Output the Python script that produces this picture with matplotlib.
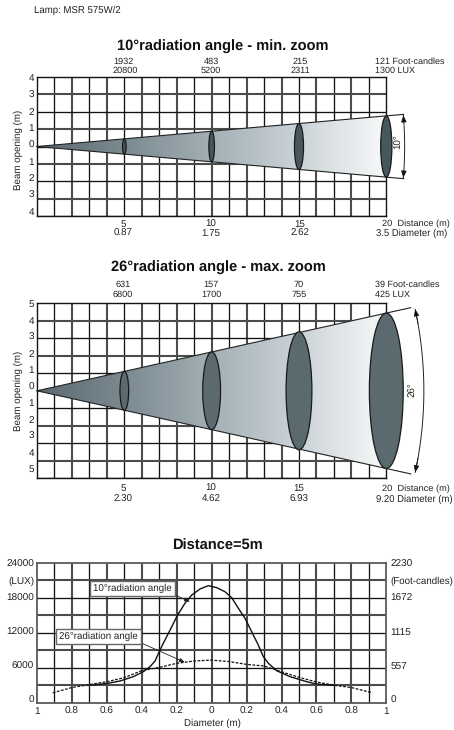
import numpy as np
import matplotlib
matplotlib.use("Agg")
import matplotlib.pyplot as plt
from matplotlib.patches import Ellipse, Polygon
from matplotlib.colors import LinearSegmentedColormap

plt.rcParams['font.family'] = ['Liberation Sans', 'DejaVu Sans']
plt.rcParams['text.hinting'] = 'no_hinting'
plt.rcParams['text.hinting_factor'] = 8

W, H = 454, 730
TXT = '#222222'
GRID = '#141414'
GRID2 = '#4c4c4c'

# ---- data ----
distances = [5, 10, 15, 20]
narrow_half = [0.44, 0.875, 1.31, 1.75]
narrow_width = [0.10, 0.16, 0.26, 0.32]
wide_half = [1.11, 2.22, 3.37, 4.44]
wide_width = [0.25, 0.51, 0.74, 0.97]
narrow_fc = ['1932', '483', '215']
narrow_lux = ['20800', '5200', '2311']
narrow_diam = ['0.87', '1.75', '2.62']
wide_fc = ['631', '157', '70']
wide_lux = ['6800', '1700', '755']
wide_diam = ['2.30', '4.62', '6.93']

d10_x = [-0.7, -0.6, -0.525, -0.449, -0.391, -0.353, -0.324, -0.30, -0.277, -0.238, -0.197, -0.153,
         -0.114, -0.067, -0.019, 0.029, 0.076, 0.115, 0.153, 0.191, 0.229, 0.267, 0.296, 0.325,
         0.372, 0.449, 0.544, 0.6, 0.7]
d10_y = [3000, 3300, 3720, 4460, 5320, 6170, 7150, 8750, 10180, 12460, 14920, 17040,
         18460, 19490, 20060, 19720, 19030, 18000, 16180, 14470, 12170, 9890, 7890, 6750,
         5490, 4460, 3600, 3200, 3000]
d26_x = [-0.91, -0.8, -0.7, -0.6, -0.5, -0.4, -0.3, -0.2, -0.1, 0,
         0.1, 0.2, 0.3, 0.4, 0.5, 0.6, 0.7, 0.8, 0.92]
d26_y = [1700, 2600, 3100, 3600, 4300, 5500, 6050, 6750, 7150, 7300,
         7050, 6570, 6290, 5300, 4350, 3550, 3000, 2600, 1700]
lux_ticks = ['24000', '18000', '12000', '6000', '0']
fc_ticks = ['2230', '1672', '1115', '557', '0']
diam_ticks = ['1', '0.8', '0.6', '0.4', '0.2', '0', '0.2', '0.4', '0.6', '0.8', '1']

fig = plt.figure(figsize=(W / 100, H / 100), dpi=100, facecolor='white')


def T(x, y, s, size=6.6, ha='center', va='center', **kw):
    kw.setdefault('color', TXT)
    return fig.text(x / W, 1 - y / H, s, fontsize=size, ha=ha, va=va, **kw)


def make_axes(top, bottom, xmin, xstep, ymin, ystep, nrows, spine, spine_lw):
    """Grid alternates thin dark and thick grey lines, as in the source."""
    ax = fig.add_axes([37 / W, 1 - bottom / H, 349.3 / W, (bottom - top) / H])
    ax.tick_params(which='both', length=0, labelbottom=False, labelleft=False)
    for s in ax.spines.values():
        s.set_linewidth(spine_lw)
        s.set_color(spine)
    ax.set_axisbelow(True)
    ax.set_xlim(xmin, xmin + 20 * xstep)
    ax.set_ylim(ymin, ymin + nrows * ystep)
    xs = xmin + np.arange(21) * xstep
    ys = ymin + np.arange(nrows + 1) * ystep
    ax.set_xticks(xs[1::2])
    ax.set_xticks(xs[2:-1:2], minor=True)
    ax.set_yticks(ys[::-1][2::2])
    ax.set_yticks(ys[::-1][1::2], minor=True)
    ax.grid(True, which='major', color=GRID, lw=0.95)
    ax.grid(True, which='minor', color=GRID2, lw=1.5)
    return ax


cmap = LinearSegmentedColormap.from_list(
    'beam', [(0, '#5a6a70'), (0.25, '#7b8a91'), (0.5, '#a3b0b6'), (0.75, '#cbd3d7'), (1, '#f8f9f9')])


def beam_panel(top, bottom, rows, halves, widths, ext, ell_col, deg, arc_r, lab_x, lab_y):
    ax = make_axes(top, bottom, 0, 1, -rows, 1, 2 * rows, GRID, 1.0)
    slope = halves[-1] / 20
    poly = Polygon([(0, 0), (ext, slope * ext), (ext, -slope * ext)], closed=True,
                   fc='white', ec='none', zorder=3, clip_on=False)
    ax.add_patch(poly)
    im = ax.imshow(np.linspace(0, 1, 256)[None, :], extent=(0, 20, -rows, rows), cmap=cmap,
                   aspect='auto', zorder=3.1, vmin=0, vmax=1)
    im.set_clip_path(poly)
    ax.set_xlim(0, 20)
    ax.set_ylim(-rows, rows)
    for sgn in (1, -1):
        ax.plot([0, ext], [0, sgn * slope * ext], color='#222222', lw=0.8, zorder=4, clip_on=False)
    for d, h, w in zip(distances, halves, widths):
        ax.add_patch(Ellipse((d, 0), 2 * w, 2 * h, fc=ell_col, ec='#1a1a1a', lw=0.9, zorder=5, clip_on=False))
    a = np.arctan(slope)
    th = np.linspace(-a * 0.97, a * 0.97, 80)
    ax.plot(arc_r * np.cos(th), arc_r * np.sin(th), color='#222222', lw=0.7, zorder=5, clip_on=False)
    for sgn in (1, -1):
        ax.annotate('', xy=(arc_r * np.cos(a * 0.97), sgn * arc_r * np.sin(a * 0.97)),
                    xytext=(arc_r * np.cos(a * 0.80), sgn * arc_r * np.sin(a * 0.80)),
                    arrowprops=dict(arrowstyle='-|>,head_width=0.16,head_length=0.4', color='#111111',
                                    lw=0.6, shrinkA=0, shrinkB=0), zorder=6, annotation_clip=False)
    T(lab_x, lab_y, deg, rotation=90, size=7)
    return ax


# ---- header ----
T(34.5, 10.5, 'Lamp: MSR 575W/2', ha='left', size=6.9)

# ---- panel 1 ----
beam_panel(76.5, 216.5, 4, narrow_half, narrow_width, 21, '#46585e', '10°', 21.05, 399, 142)
T(222.5, 46.5, '10°radiation angle - min. zoom', size=10.5, weight='bold', color='#111111')
for x, fc, lx, dm, d in zip([123.5, 211, 300], narrow_fc, narrow_lux, narrow_diam, distances):
    T(x, 61.3, fc); T(x + 1.5 * (len(lx) - 4), 70.8, lx)
    T(x, 224, str(d), size=7); T(x, 233, dm, size=7)
T(375.3, 61.3, '121 Foot-candles', ha='left', size=6.5); T(375.3, 70.8, '1300 LUX', ha='left', size=6.5)
T(382, 223.5, '20  Distance (m)', ha='left', size=6.7); T(376, 233, '3.5 Diameter (m)', ha='left', size=6.85)
for i, lab in enumerate(['4', '3', '2', '1', '0', '1', '2', '3', '4']):
    T(34, 78.8 + i * 16.67, lab, ha='right', size=7.2)
T(18, 150, 'Beam opening (m)', rotation=90, size=7)

# ---- panel 2 ----
beam_panel(303.3, 478.3, 5, wide_half, wide_width, 21.4, '#5a6a6e', '26°', 22.15, 413, 390)
T(218, 268, '26°radiation angle - max. zoom', size=10.5, weight='bold', color='#111111')
for x, fc, lx, dm, d in zip([123, 211, 299], wide_fc, wide_lux, wide_diam, distances):
    T(x, 285, fc); T(x, 294.3, lx)
    T(x, 488.5, str(d), size=7); T(x, 499, dm, size=7)
T(375.3, 285, '39 Foot-candles', ha='left', size=6.5); T(375.3, 294.3, '425 LUX', ha='left', size=6.5)
T(382, 488.5, '20  Distance (m)', ha='left', size=6.7); T(376.3, 499, '9.20 Diameter (m)', ha='left', size=6.85)
for i, lab in enumerate(['5', '4', '3', '2', '1', '0', '1', '2', '3', '4', '5']):
    T(34, 304.5 + i * 16.5, lab, ha='right', size=7.2)
T(18, 391, 'Beam opening (m)', rotation=90, size=7)

# ---- panel 3 ----
ax3 = make_axes(562.7, 702.7, -1, 0.1, 0, 3000, 8, '#5a5a5a', 1.3)
ax3.plot(d10_x, d10_y, color='#111111', lw=1.0, zorder=4)
ax3.plot(d26_x, d26_y, color='#111111', lw=0.9, ls=(0, (2.2, 1.2)), zorder=4)
box = dict(boxstyle='square,pad=0.3', fc='white', ec='#666666', lw=1.0)
arrow = dict(arrowstyle='-|>,head_width=0.16,head_length=0.45', color='#222222', lw=0.6,
             shrinkA=0, shrinkB=0, relpos=(1, 0))
ax3.annotate('10°radiation angle', xy=(-0.124, 17300), xytext=(-0.68, 19540),
             fontsize=7, color=TXT, va='center', ha='left', bbox=box, arrowprops=arrow, zorder=6)
ax3.annotate('26°radiation angle', xy=(-0.153, 6925), xytext=(-0.874, 11300),
             fontsize=7, color=TXT, va='center', ha='left', bbox=box, arrowprops=arrow, zorder=6)
T(217, 546, 'Distance=5m', size=10.5, weight='bold', color='#111111')
for y, l, r in zip([564.7, 598.3, 632.3, 666.7, 700.7], lux_ticks, fc_ticks):
    T(34, y, l, ha='right', size=7.2)
    T(390.5, y, r, ha='left', size=7.2)
T(34, 581.7, '(LUX)', ha='right', size=7.2)
T(390.5, 581.7, '(Foot-candles)', ha='left', size=7)
for v, lab in zip(np.arange(-10, 11, 2) / 10, diam_ticks):
    T(37 + (v + 1) * 174.65, 711.7, lab, size=7.2)
T(212, 723, 'Diameter (m)', size=7)

fig.savefig('out.png', dpi=100, facecolor='white')
